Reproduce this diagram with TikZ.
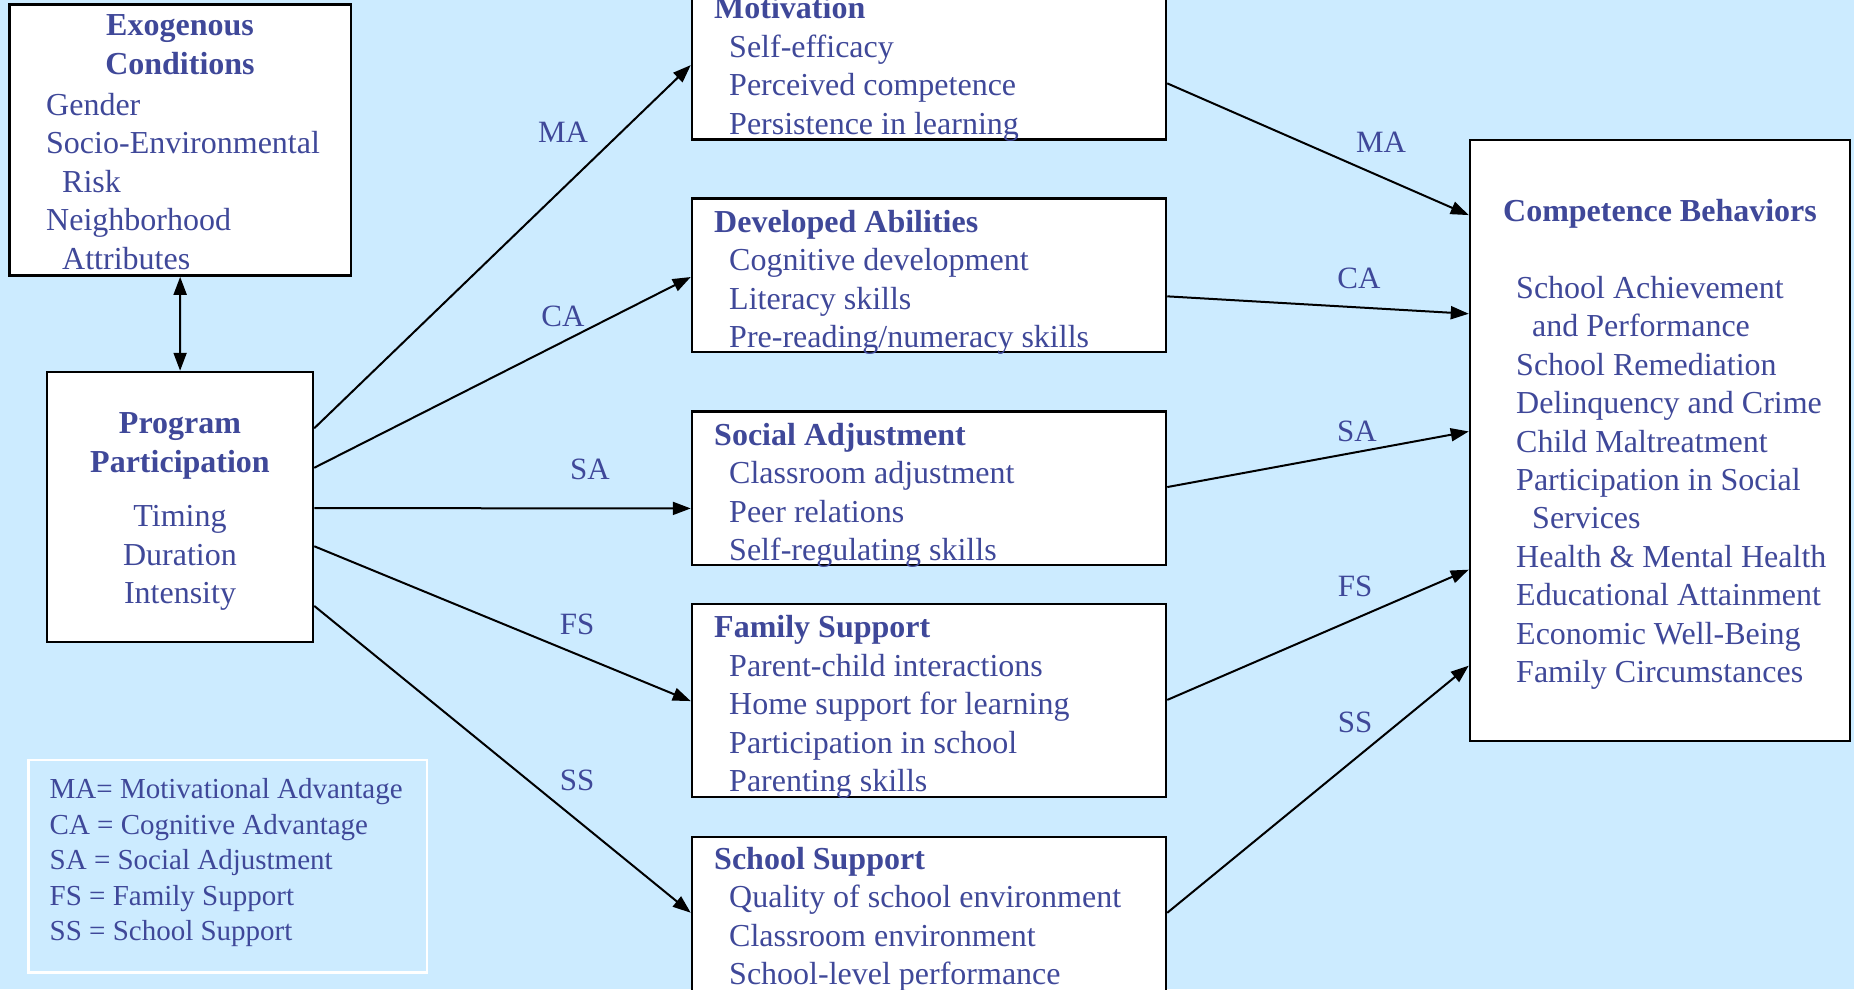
\documentclass[tikz,border=0pt]{standalone}
\usepackage{fontspec}
\setmainfont{Liberation Serif}
\usetikzlibrary{positioning, calc, arrows.meta}

\definecolor{skyback}{HTML}{CCEBFF}
\definecolor{inkblue}{HTML}{3F4899}

\begin{document}
\begin{tikzpicture}[x=1pt, y=-1pt,
        box/.style={draw=black, fill=white, line width=2.5pt, inner sep=0pt},
        txt/.style={text=inkblue, font=\fontsize{32}{38.4}\selectfont, inner sep=0pt, align=left},
        lbl/.style={text=inkblue, font=\fontsize{31}{36}\selectfont, inner sep=0pt},
        link/.style={line width=2pt, -{Triangle[length=18pt,width=13pt]}}]

                % Draw the background
                \useasboundingbox (0,0) rectangle (1854,989);
                \clip (0,0) rectangle (1854,989);
                \fill[skyback] (0,0) rectangle (1854,989);

                % Draw the boxes
                \node[box, minimum width=341.5pt, minimum height=271pt] (exo) at (180.25,140.1) {};
                \node[box, minimum width=266pt, minimum height=270pt] (prog) at (180,507) {};
                \node[box, minimum width=474pt, minimum height=160.5pt] (mot) at (929,59.25) {};
                \node[box, minimum width=474pt, minimum height=153.4pt] (dev) at (929,275.3) {};
                \node[box, minimum width=474pt, minimum height=153.5pt] (soc) at (929,488.3) {};
                \node[box, minimum width=474pt, minimum height=193pt] (fam) at (929,700.5) {};
                \node[box, minimum width=474pt, minimum height=193pt] (sch) at (929,933.5) {};
                \node[box, minimum width=380pt, minimum height=601pt] (comp) at (1660,440.5) {};
                \node[draw=white, line width=2.5pt, minimum width=398.5pt, minimum height=212.5pt] (key) at (227.75,866.25) {};

                % Draw the texts of the boxes
                \node[txt, align=center, anchor=north] (exoT) at (180,14.5) {\textbf{Exogenous}\\\textbf{Conditions}};
                \node[txt, anchor=north west] (exoL) at (46,93) {Gender\\Socio-Environmental\\\hspace*{16pt}Risk\\Neighborhood\\\hspace*{16pt}Attributes};
                \node[txt, align=center, anchor=north] (progT) at (180,412.5) {\textbf{Program}\\\textbf{Participation}};
                \node[txt, align=center, anchor=north] (progL) at (180,505.5) {Timing\\Duration\\Intensity};

                \node[txt, anchor=north west] (motL) at (714,-3.5) {\textbf{Motivation}\\\hspace*{15pt}Self-efficacy\\\hspace*{15pt}Perceived competence\\\hspace*{15pt}Persistence in learning};
                \node[txt, anchor=north west] (devL) at (714,210) {\textbf{Developed Abilities}\\\hspace*{15pt}Cognitive development\\\hspace*{15pt}Literacy skills\\\hspace*{15pt}Pre-reading/numeracy skills};
                \node[txt, anchor=north west] (socL) at (714,423) {\textbf{Social Adjustment}\\\hspace*{15pt}Classroom adjustment\\\hspace*{15pt}Peer relations\\\hspace*{15pt}Self-regulating skills};
                \node[txt, anchor=north west] (famL) at (714,615.5) {\textbf{Family Support}\\\hspace*{15pt}Parent-child interactions\\\hspace*{15pt}Home support for learning\\\hspace*{15pt}Participation in school\\\hspace*{15pt}Parenting skills};
                \node[txt, anchor=north west] (schL) at (714,847) {\textbf{School Support}\\\hspace*{15pt}Quality of school environment\\\hspace*{15pt}Classroom environment\\\hspace*{15pt}School-level performance};

                \node[txt, anchor=north] (compT) at (1660,199.5) {\textbf{Competence Behaviors}};
                \node[txt, anchor=north west] (compL) at (1516,276) {School Achievement\\\hspace*{16pt}and Performance\\School Remediation\\Delinquency and Crime\\Child Maltreatment\\Participation in Social\\\hspace*{16pt}Services\\Health \& Mental Health\\Educational Attainment\\Economic Well-Being\\Family Circumstances};

                \node[txt, anchor=north west, font=\fontsize{29}{35.5}\selectfont] (keyL) at (49.5,778.5) {MA= Motivational Advantage\\CA = Cognitive Advantage\\SA = Social Adjustment\\FS = Family Support\\SS = School Support};

                % Draw edges between exogenous conditions and participation
                \draw[line width=2pt, {Triangle[length=18pt,width=13pt]}-{Triangle[length=18pt,width=13pt]}] (exo) -- (prog);

                % Draw edges from participation to the five paths
                \draw[link] ($(prog.north east)!0.211!(prog.south east)$) -- ($(mot.north west)!0.536!(mot.south west)$);
                \draw[link] ($(prog.north east)!0.356!(prog.south east)$) -- ($(dev.north west)!0.511!(dev.south west)$);
                \draw[link] ($(prog.north east)!0.504!(prog.south east)$) -- ($(soc.north west)!0.629!(soc.south west)$);
                \draw[link] ($(prog.north east)!0.644!(prog.south east)$) -- ($(fam.north west)!0.503!(fam.south west)$);
                \draw[link] ($(prog.north east)!0.863!(prog.south east)$) -- ($(sch.north west)!0.394!(sch.south west)$);

                % Draw edges from the five paths to competence behaviors
                \draw[link] ($(mot.north east)!0.648!(mot.south east)$) -- ($(comp.north west)!0.1265!(comp.south west)$);
                \draw[link] ($(dev.north east)!0.635!(dev.south east)$) -- ($(comp.north west)!0.290!(comp.south west)$);
                \draw[link] ($(soc.north east)!0.492!(soc.south east)$) -- ($(comp.north west)!0.485!(comp.south west)$);
                \draw[link] ($(fam.north east)!0.497!(fam.south east)$) -- ($(comp.north west)!0.714!(comp.south west)$);
                \draw[link] ($(sch.north east)!0.394!(sch.south east)$) -- ($(comp.north west)!0.873!(comp.south west)$);

                % Draw the path labels
                \node[lbl] (ma1) at (563,132) {MA};
                \node[lbl] (ca1) at (563,316) {CA};
                \node[lbl] (sa1) at (590,469) {SA};
                \node[lbl] (fs1) at (577,624) {FS};
                \node[lbl] (ss1) at (577,780) {SS};

                \node[lbl] (ma2) at (1381,142) {MA};
                \node[lbl] (ca2) at (1359,278) {CA};
                \node[lbl] (sa2) at (1357,431.5) {SA};
                \node[lbl] (fs2) at (1355,586.5) {FS};
                \node[lbl] (ss2) at (1355,722) {SS};

\end{tikzpicture}
\end{document}
